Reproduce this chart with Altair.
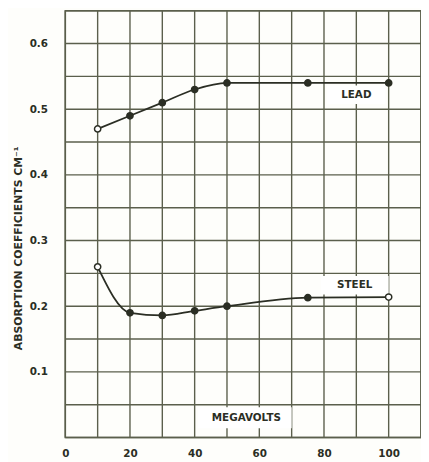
import altair as alt
import pandas as pd

megavolts = [10, 20, 30, 40, 50, 75, 100]
lead = [0.47, 0.49, 0.51, 0.53, 0.54, 0.54, 0.54]
steel = [0.26, 0.19, 0.186, 0.193, 0.20, 0.213, 0.214]
lead_open = [True, False, False, False, False, False, False]
steel_open = [True, False, False, False, False, False, True]

x_ticks = [0, 20, 40, 60, 80, 100]
y_ticks = [0.1, 0.2, 0.3, 0.4, 0.5, 0.6]
x_grid = list(range(0, 111, 10))
y_grid = [i * 0.05 for i in range(0, 14)]

labels = ["LEAD", "STEEL", "MEGAVOLTS"]
label_x = [90, 89.5, 56]
label_y = [0.522, 0.232, 0.029]
box_x = [81, 79, 41]
box_x2 = [99, 100, 70]
box_y = [0.508, 0.218, 0.014]
box_y2 = [0.536, 0.246, 0.046]

INK = "#2b2e24"
GRID = "#5b5f4c"
FONT = "DejaVu Sans"

rows = []
for i, m in enumerate(megavolts):
    rows.append({"mv": m, "v": lead[i], "s": "LEAD", "open": lead_open[i]})
for i, m in enumerate(megavolts):
    rows.append({"mv": m, "v": steel[i], "s": "STEEL", "open": steel_open[i]})
df = pd.DataFrame(rows)

xs = alt.Scale(domain=[0, 110], nice=False, zero=False)
ys = alt.Scale(domain=[0, 0.65], nice=False)

gx = alt.Chart(pd.DataFrame({"g": x_grid})).mark_rule(color=GRID, strokeWidth=1.4).encode(
    x=alt.X("g:Q", scale=xs)
)
gy = alt.Chart(pd.DataFrame({"g": y_grid})).mark_rule(color=GRID, strokeWidth=1.4).encode(
    y=alt.Y("g:Q", scale=ys)
)

lab_df = pd.DataFrame({"t": labels, "x": label_x, "y": label_y,
                       "bx": box_x, "bx2": box_x2, "by": box_y, "by2": box_y2})
boxes = alt.Chart(lab_df).mark_rect(color="white").encode(
    x=alt.X("bx:Q", scale=xs), x2="bx2:Q",
    y=alt.Y("by:Q", scale=ys), y2="by2:Q",
)
texts = alt.Chart(lab_df).mark_text(font=FONT, fontSize=10.5, fontWeight="bold", color=INK).encode(
    x=alt.X("x:Q", scale=xs), y=alt.Y("y:Q", scale=ys), text="t:N"
)

lines = alt.Chart(df).mark_line(color=INK, strokeWidth=1.8, interpolate="monotone").encode(
    x=alt.X("mv:Q", scale=xs,
            axis=alt.Axis(values=x_ticks, title=None, grid=False, ticks=False, domain=False,
                          labelFont=FONT, labelFontSize=10.5, labelFontWeight="bold",
                          labelColor=INK, labelPadding=11, labelFlush=False)),
    y=alt.Y("v:Q", scale=ys,
            axis=alt.Axis(values=y_ticks, format=".1f", grid=False, ticks=False, domain=False,
                          title="ABSORPTION  COEFFICIENTS  CM⁻¹",
                          titleFont=FONT, titleFontSize=11, titleFontWeight="bold",
                          titleColor=INK, titlePadding=6, titleY=240,
                          labelFont=FONT, labelFontSize=10.5, labelFontWeight="bold",
                          labelColor=INK, labelPadding=18)),
    detail="s:N",
)
pts = alt.Chart(df).mark_point(filled=False, size=40, strokeWidth=1.5, opacity=1).encode(
    x=alt.X("mv:Q", scale=xs), y=alt.Y("v:Q", scale=ys),
    fill=alt.Fill("open:N", scale=alt.Scale(domain=[True, False], range=["white", INK]), legend=None),
    stroke=alt.value(INK),
)

chart = alt.layer(gx, gy, lines, boxes, texts, pts).properties(
    width=360, height=432,
    autosize=alt.AutoSizeParams(type="none"),
    padding={"left": 58, "top": 0, "right": 0, "bottom": 22},
    background="#fefefb",
).configure_view(stroke=GRID, strokeWidth=1.6)

chart.save("out.html", embed_options={"renderer": "svg", "actions": False})
